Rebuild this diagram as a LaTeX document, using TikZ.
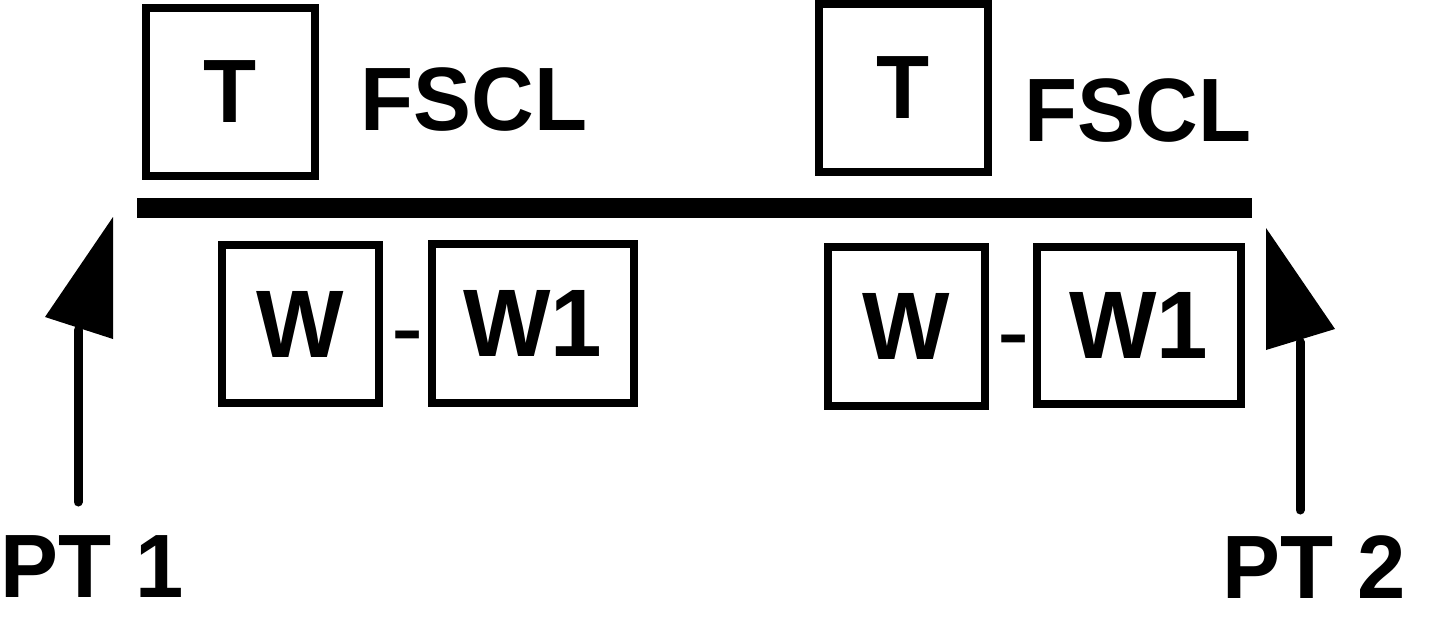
\documentclass[tikz,border=0pt]{standalone}
\usepackage{fontspec}
\setmainfont{Liberation Sans}[FakeStretch=0.965]
\begin{document}
\begin{tikzpicture}[x=0.5pt,y=-0.5pt,
    caja/.style={draw,line width=4pt,inner sep=0pt},
    letra/.style={font=\bfseries\fontsize{45}{54}\selectfont},
    letrag/.style={font=\bfseries\fontsize{48}{58}\selectfont},
    guion/.style={font=\fontsize{50}{60}\selectfont,anchor=base},
    asta/.style={line width=4.5pt,line cap=round}]
    \useasboundingbox (0,0) rectangle (1429,631);

    % Linea principal
    \coordinate (linIzq) at (137,208);
    \coordinate (linDer) at (1252,208);
    \draw[line width=10pt] (linIzq) -- (linDer);

    % Cajas T con FSCL
    \node[caja,letra,minimum width=84.5pt,minimum height=84pt] (t1) at (230.5,92) {T};
    \node[letra] (fscl1) at (474,99.5) {FSCL};
    \node[caja,letra,minimum width=84.5pt,minimum height=84pt] (t2) at (903,88) {T};
    \node[letra] (fscl2) at (1138,111) {FSCL};

    % Cajas W - W1
    \node[caja,letrag,minimum width=78.5pt,minimum height=79pt] (w1) at (300.5,324) {W};
    \node[guion] (guion1) at (407.5,361) {-};
    \node[caja,letrag,minimum width=101pt,minimum height=79.5pt] (wuno1) at (533,323.5) {W1};
    \node[caja,letrag,minimum width=78.5pt,minimum height=79.5pt] (w2) at (906.5,326.5) {W};
    \node[guion] (guion2) at (1013.5,365) {-};
    \node[caja,letrag,minimum width=102pt,minimum height=78.5pt] (wuno2) at (1139,325.5) {W1};

    % Flecha PT 1
    \coordinate (cola1) at (78,502);
    \coordinate (cuello1) at (78,330);
    \coordinate (punta1) at (113,217);
    \coordinate (ala1a) at (45,317);
    \coordinate (ala1b) at (113,339);
    \draw[asta] (cola1) -- (cuello1);
    \fill (punta1) -- (ala1a) -- (ala1b) -- cycle;
    \node[letra] (pt1) at (92,567) {PT 1};

    % Flecha PT 2
    \coordinate (cola2) at (1300,510);
    \coordinate (cuello2) at (1300,342);
    \coordinate (punta2) at (1266,228);
    \coordinate (ala2a) at (1335,329);
    \coordinate (ala2b) at (1266,350);
    \draw[asta] (cola2) -- (cuello2);
    \fill (punta2) -- (ala2a) -- (ala2b) -- cycle;
    \node[letra] (pt2) at (1314,567) {PT 2};
\end{tikzpicture}
\end{document}
